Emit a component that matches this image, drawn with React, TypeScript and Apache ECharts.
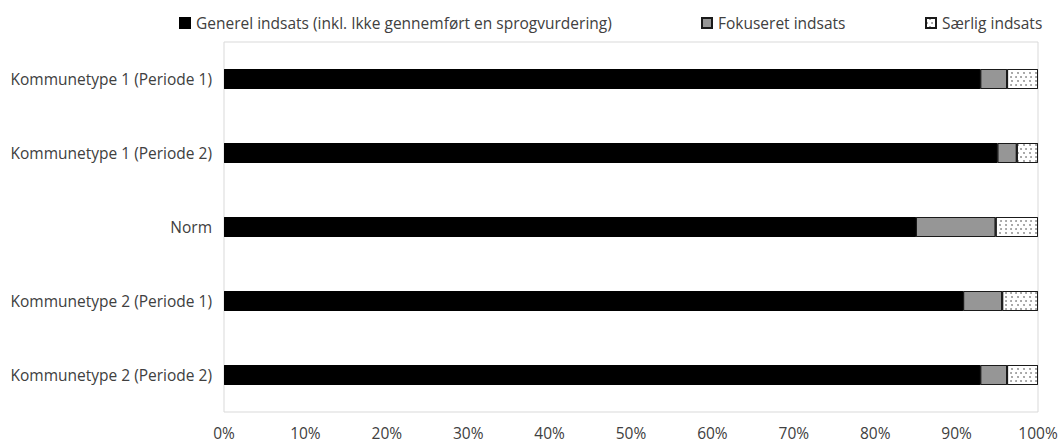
import React, { useEffect, useRef } from "react";
import * as echarts from "echarts";

const categories = [
  "Kommunetype 1 (Periode 1)",
  "Kommunetype 1 (Periode 2)",
  "Norm",
  "Kommunetype 2 (Periode 1)",
  "Kommunetype 2 (Periode 2)",
];
const seriesNames = [
  "Generel indsats (inkl. Ikke gennemført en sprogvurdering)",
  "Fokuseret indsats",
  "Særlig indsats",
];
const generel = [92.9, 95.0, 85.0, 90.8, 92.9];
const fokuseret = [3.3, 2.4, 9.8, 4.8, 3.3];
const saerlig = [3.8, 2.6, 5.2, 4.4, 3.8];
const xTicks = [0, 10, 20, 30, 40, 50, 60, 70, 80, 90, 100];

const FONT = "Open Sans";
const TEXT = "#404040";
const FS = 15.5;

export default function App() {
  const ref = useRef<HTMLDivElement>(null);
  useEffect(() => {
    if (!ref.current) return;
    const chart = echarts.init(ref.current, undefined, { renderer: "svg" });
    const dotted = {
      symbol: "circle",
      symbolSize: 0.8,
      color: "#7a7a7a",
      dashArrayX: [[2, 3], [0, 2.5, 2, 0.5]],
      dashArrayY: [2, 1.5],
      rotation: 0,
    };
    const legendBase = {
      top: 10,
      itemWidth: 10,
      itemHeight: 10,
      icon: "rect",
      selectedMode: false,
      textStyle: { fontFamily: FONT, fontSize: FS, color: TEXT, padding: [0, 0, 0, 1] },
    };
    chart.setOption({
      animation: false,
      aria: { enabled: false, decal: { show: true } },
      textStyle: { fontFamily: FONT },
      legend: [
        { ...legendBase, left: 174, data: [seriesNames[0]] },
        { ...legendBase, left: 696, data: [seriesNames[1]] },
        { ...legendBase, left: 920, data: [seriesNames[2]] },
      ],
      grid: {
        left: 224,
        right: 23,
        top: 42,
        bottom: 33,
        show: true,
        borderColor: "#d9d9d9",
        borderWidth: 1,
        containLabel: false,
      },
      xAxis: {
        type: "value",
        min: xTicks[0],
        max: xTicks[xTicks.length - 1],
        interval: 10,
        axisLine: { show: false },
        axisTick: { show: false },
        splitLine: { show: false },
        axisLabel: {
          formatter: "{value}%",
          fontFamily: FONT,
          fontSize: FS,
          color: TEXT,
          margin: 13,
        },
      },
      yAxis: {
        type: "category",
        data: categories,
        inverse: true,
        axisLine: { show: false },
        axisTick: { show: false },
        axisLabel: { fontFamily: FONT, fontSize: FS, color: TEXT, margin: 12 },
      },
      series: [
        {
          name: seriesNames[0],
          type: "bar",
          stack: "total",
          barWidth: 20,
          data: generel,
          itemStyle: { color: "#000000", borderColor: "#000000", borderWidth: 1, decal: { symbol: "none" } },
        },
        {
          name: seriesNames[1],
          type: "bar",
          stack: "total",
          barWidth: 20,
          data: fokuseret,
          itemStyle: { color: "#969696", borderColor: "#1a1a1a", borderWidth: 1, decal: { symbol: "none" } },
        },
        {
          name: seriesNames[2],
          type: "bar",
          stack: "total",
          barWidth: 20,
          data: saerlig,
          itemStyle: { color: "#ffffff", borderColor: "#1a1a1a", borderWidth: 1, decal: dotted },
        },
      ],
    });
    return () => chart.dispose();
  }, []);
  return <div ref={ref} style={{ width: 1061, height: 445, position: "absolute", left: 0, top: 0 }} />;
}
